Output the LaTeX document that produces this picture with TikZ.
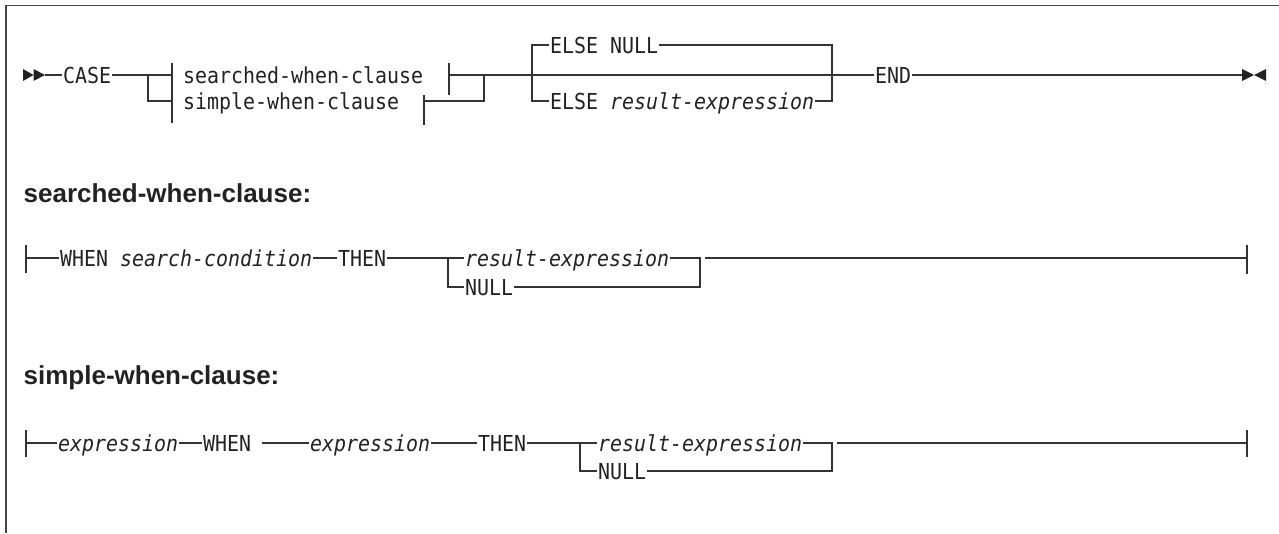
\documentclass[tikz,border=0pt]{standalone}
\usepackage{fontspec}
\newfontfamily\rrfont[FakeStretch=0.906]{DejaVu Sans Mono}
\newfontfamily\hdfont{Liberation Sans}
\definecolor{ink}{HTML}{222222}
\definecolor{rule}{HTML}{333333}
\definecolor{framec}{HTML}{444444}
\begin{document}
\begin{tikzpicture}[x=1pt,y=-1pt,line join=miter,rule,line width=1.3pt,
  t/.style={anchor=west,inner xsep=0.5pt,inner ysep=0pt,text height=16pt,text depth=0pt,
    font=\rrfont\fontsize{22}{26}\selectfont,text=ink},
  hd/.style={anchor=base west,inner sep=0pt,font=\hdfont\bfseries\fontsize{26}{30}\selectfont,text=ink},
  tick/.style={line width=1.5pt},
  thk/.style={line width=1.9pt},
  framel/.style={draw=framec,line width=1.6pt},
  tri/.style={fill=ink,draw=none}]
\useasboundingbox (0,0) rectangle (1279,533);
\draw[framel] (1279,5.5) -- (6,5.5) -- (6,533);

% ---------------- Row 1 ----------------
\fill[tri] (23,69) -- (33.5,75) -- (23,81) -- cycle;
\fill[tri] (33.5,69) -- (45,75) -- (33.5,81) -- cycle;
\coordinate (r1s) at (45,75);
\node[t] (case) at (62,75) {CASE};
\coordinate (r1j) at (148,75);
\coordinate (r1jb) at (148,101);
\coordinate (tl1) at (172,75);
\coordinate (tl1b) at (172,101);
\node[t] (swc) at (182,75) {searched-when-clause};
\node[t] (smc) at (182,101) {simple-when-clause};
\coordinate (tr1) at (449,75);
\coordinate (tr2) at (424,101);
\coordinate (m1) at (484,75);
\coordinate (m1b) at (484,101);
\coordinate (eLt) at (532,45);
\coordinate (eLb) at (532,101);
\node[t] (enull) at (549,45) {ELSE NULL};
\node[t] (eres) at (549,101) {ELSE \textit{result-expression}};
\coordinate (eRt) at (832,45);
\coordinate (eRb) at (832,101);
\node[t] (end) at (874,75) {END};
\coordinate (r1e) at (1242,75);

\draw (r1s) -- (case.west);
\draw (case.east) -- (tl1);
\draw (r1j) -- (r1jb) -- (tl1b);
\draw[tick] (172,63) -- (172,123);
\draw[tick] (449,63) -- (449,95);
\draw[tick] (424,95) -- (424,125);
\draw (tr1) -- (m1) -- (m1b) -- (tr2);
\draw (m1) -- (end.west);
\draw (enull.west) -- (eLt) -- (eLb) -- (eres.west);
\draw (enull.east) -- (eRt) -- (eRb) -- (eres.east);
\draw (end.east) -- (r1e);
\draw[thk] (end.east) -- ++(23,0);
\fill[tri] (1242,69) -- (1254,75) -- (1242,81) -- cycle;
\fill[tri] (1266,69) -- (1254,75) -- (1266,81) -- cycle;

% ---------------- searched-when-clause ----------------
\node[hd] (h1) at (23,202) {searched-when-clause:};
\coordinate (r2s) at (26,258);
\node[t] (w2) at (59,258) {WHEN};
\node[t] (sc2) at (119,258) {\textit{search-condition}};
\node[t] (th2) at (337,258) {THEN};
\coordinate (j2) at (448,258);
\coordinate (j2b) at (448,287);
\node[t] (re2) at (464,258) {\textit{result-expression}};
\node[t] (nu2) at (464,287) {NULL};
\coordinate (k2) at (700,258);
\coordinate (k2b) at (700,287);
\coordinate (d2) at (705,258);
\coordinate (r2e) at (1247,258);
\draw[tick] (26,245) -- (26,273);
\draw (r2s) -- (w2.west);
\draw (sc2.east) -- (th2.west);
\draw (th2.east) -- (j2) -- (re2.west);
\draw (j2) -- (j2b) -- (nu2.west);
\draw (re2.east) -- (k2) -- (k2b) -- (nu2.east);
\draw (d2) -- (r2e);
\draw[thk] (d2) -- ++(23,0);
\draw[tick] (1247,245) -- (1247,274);

% ---------------- simple-when-clause ----------------
\node[hd] (h2) at (23,384) {simple-when-clause:};
\coordinate (r3s) at (26,443);
\node[t] (ex3) at (57,443) {\textit{expression}};
\node[t] (w3) at (202,443) {WHEN};
\coordinate (g3) at (262,443);
\node[t] (ex3b) at (309,443) {\textit{expression}};
\node[t] (th3) at (477,443) {THEN};
\coordinate (j3) at (580,443);
\coordinate (j3b) at (580,471);
\node[t] (re3) at (597,443) {\textit{result-expression}};
\node[t] (nu3) at (597,471) {NULL};
\coordinate (k3) at (832,443);
\coordinate (k3b) at (832,471);
\coordinate (d3) at (837,443);
\coordinate (r3e) at (1247,443);
\draw[tick] (26,430) -- (26,457);
\draw (r3s) -- (ex3.west);
\draw[thk] (33,443) -- (42,443);
\draw (ex3.east) -- (w3.west);
\draw (g3) -- (ex3b.west);
\draw (ex3b.east) -- (th3.west);
\draw (th3.east) -- (j3) -- (re3.west);
\draw (j3) -- (j3b) -- (nu3.west);
\draw (re3.east) -- (k3) -- (k3b) -- (nu3.east);
\draw (d3) -- (r3e);
\draw[thk] (d3) -- ++(23,0);
\draw[tick] (1247,430) -- (1247,457);
\end{tikzpicture}
\end{document}
